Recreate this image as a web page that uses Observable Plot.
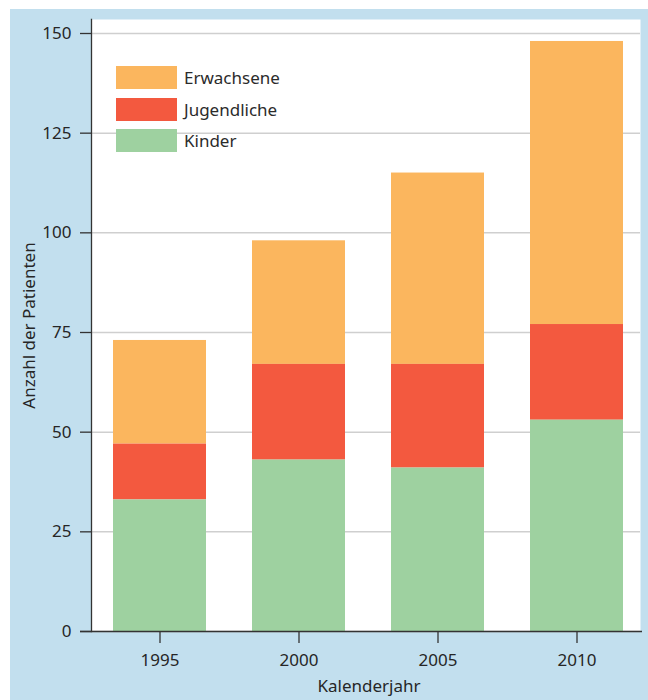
<!DOCTYPE html>
<html><head><meta charset="utf-8">
<script src="https://cdn.jsdelivr.net/npm/d3@7"></script>
<script src="https://cdn.jsdelivr.net/npm/@observablehq/plot@0.6"></script>
<style>
html,body{margin:0;padding:0;background:#fff;}
#wrap{position:absolute;left:10px;top:9px;width:638px;height:691px;background:#c2dfee;overflow:hidden;}
#wrap svg{position:absolute;left:0;top:0;z-index:1;}
#legend{position:absolute;z-index:2;left:106px;top:52.75px;font-family:"Noto Sans";font-size:17px;color:#2b2b2b;}
.row{display:flex;align-items:center;height:31.5px;}
.sw{width:61px;height:23px;margin-right:7px;flex:none;}
</style>
</head><body>
<div id="wrap"><div id="legend"></div></div>
<script>
const years = ["1995", "2000", "2005", "2010"];
const series = ["Erwachsene", "Jugendliche", "Kinder"];
const colors = ["#fbb65e", "#f3593f", "#9ed1a0"];
const kinder = [33, 43, 41, 53];
const jugendliche = [14, 24, 26, 24];
const erwachsene = [26, 31, 48, 71];
const yTicks = [0, 25, 50, 75, 100, 125, 150];
const stackOrder = ["Kinder", "Jugendliche", "Erwachsene"];

const valuesBySeries = {Erwachsene: erwachsene, Jugendliche: jugendliche, Kinder: kinder};
const table = series.flatMap(s => years.map((y, i) => ({year: y, series: s, value: valuesBySeries[s][i]})));

const chart = Plot.plot({
  width: 638, height: 691,
  marginLeft: 81, marginRight: 2, marginTop: 10, marginBottom: 69,
  style: {background: "transparent", fontFamily: "Noto Sans", fontSize: "17px", color: "#262626", overflow: "visible"},
  x: {domain: years, paddingInner: 0.33, paddingOuter: 0.15, label: null},
  y: {domain: [0, 150], insetTop: 14, label: null},
  color: {domain: series, range: colors},
  marks: [
    Plot.frame({fill: "white", insetRight: 6}),
    Plot.gridY(yTicks, {stroke: "#cfcfcf", strokeOpacity: 1, strokeWidth: 1.5, insetRight: 6}),
    Plot.barY(table, {x: "year", y: "value", fill: "series", order: stackOrder}),
    Plot.axisY(yTicks, {tickSize: 11, tickPadding: 9, fontSize: 17, stroke: "#333", strokeWidth: 1.3,
      label: "Anzahl der Patienten", labelAnchor: "center", labelOffset: 69, labelArrow: "none"}),
    Plot.axisX({tickSize: 12, tickPadding: 10, fontSize: 17, stroke: "#333", strokeWidth: 1.3,
      label: "Kalenderjahr", labelAnchor: "center", labelOffset: 60, labelArrow: "none"}),
    Plot.frame({anchor: "left", stroke: "#333", strokeWidth: 1.3}),
    Plot.ruleY([0], {stroke: "#333", strokeWidth: 1.5, insetLeft: -11, insetRight: 4})
  ]
});
document.getElementById("wrap").appendChild(chart);

const legend = document.getElementById("legend");
series.forEach((s, i) => {
  const row = document.createElement("div");
  row.className = "row";
  const sw = document.createElement("span");
  sw.className = "sw";
  sw.style.background = colors[i];
  const lab = document.createElement("span");
  lab.textContent = s;
  row.appendChild(sw);
  row.appendChild(lab);
  legend.appendChild(row);
});
</script>
</body></html>
